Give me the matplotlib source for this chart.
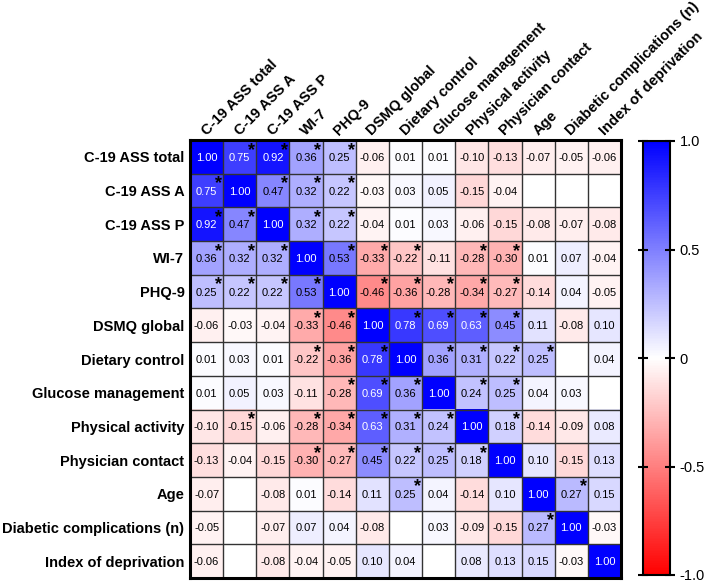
import numpy as np
import matplotlib
matplotlib.use('Agg')
import matplotlib.pyplot as plt
from matplotlib.colors import LinearSegmentedColormap

plt.rcParams['font.family'] = ['Liberation Sans', 'DejaVu Sans']

# Variable names
labels = ['C-19 ASS total', 'C-19 ASS A', 'C-19 ASS P', 'WI-7', 'PHQ-9',
          'DSMQ global', 'Dietary control', 'Glucose management',
          'Physical activity', 'Physician contact', 'Age',
          'Diabetic complications (n)', 'Index of deprivation']

nan = np.nan
# Correlation coefficients (blank cells = nan)
corr = [
    [1.00, 0.75, 0.92, 0.36, 0.25, -0.06, 0.01, 0.01, -0.10, -0.13, -0.07, -0.05, -0.06],
    [0.75, 1.00, 0.47, 0.32, 0.22, -0.03, 0.03, 0.05, -0.15, -0.04, nan, nan, nan],
    [0.92, 0.47, 1.00, 0.32, 0.22, -0.04, 0.01, 0.03, -0.06, -0.15, -0.08, -0.07, -0.08],
    [0.36, 0.32, 0.32, 1.00, 0.53, -0.33, -0.22, -0.11, -0.28, -0.30, 0.01, 0.07, -0.04],
    [0.25, 0.22, 0.22, 0.53, 1.00, -0.46, -0.36, -0.28, -0.34, -0.27, -0.14, 0.04, -0.05],
    [-0.06, -0.03, -0.04, -0.33, -0.46, 1.00, 0.78, 0.69, 0.63, 0.45, 0.11, -0.08, 0.10],
    [0.01, 0.03, 0.01, -0.22, -0.36, 0.78, 1.00, 0.36, 0.31, 0.22, 0.25, nan, 0.04],
    [0.01, 0.05, 0.03, -0.11, -0.28, 0.69, 0.36, 1.00, 0.24, 0.25, 0.04, 0.03, nan],
    [-0.10, -0.15, -0.06, -0.28, -0.34, 0.63, 0.31, 0.24, 1.00, 0.18, -0.14, -0.09, 0.08],
    [-0.13, -0.04, -0.15, -0.30, -0.27, 0.45, 0.22, 0.25, 0.18, 1.00, 0.10, -0.15, 0.13],
    [-0.07, nan, -0.08, 0.01, -0.14, 0.11, 0.25, 0.04, -0.14, 0.10, 1.00, 0.27, 0.15],
    [-0.05, nan, -0.07, 0.07, 0.04, -0.08, nan, 0.03, -0.09, -0.15, 0.27, 1.00, -0.03],
    [-0.06, nan, -0.08, -0.04, -0.05, 0.10, 0.04, nan, 0.08, 0.13, 0.15, -0.03, 1.00],
]

# Significance markers (1 = asterisk)
sig = [
    [0, 1, 1, 1, 1, 0, 0, 0, 0, 0, 0, 0, 0],
    [1, 0, 1, 1, 1, 0, 0, 0, 0, 0, 0, 0, 0],
    [1, 1, 0, 1, 1, 0, 0, 0, 0, 0, 0, 0, 0],
    [1, 1, 1, 0, 1, 1, 1, 0, 1, 1, 0, 0, 0],
    [1, 1, 1, 1, 0, 1, 1, 1, 1, 1, 0, 0, 0],
    [0, 0, 0, 1, 1, 0, 1, 1, 1, 1, 0, 0, 0],
    [0, 0, 0, 1, 1, 1, 0, 1, 1, 1, 1, 0, 0],
    [0, 0, 0, 0, 1, 1, 1, 0, 1, 1, 0, 0, 0],
    [0, 1, 0, 1, 1, 1, 1, 1, 0, 1, 0, 0, 0],
    [0, 0, 0, 1, 1, 1, 1, 1, 1, 0, 0, 0, 0],
    [0, 0, 0, 0, 0, 0, 1, 0, 0, 0, 0, 1, 0],
    [0, 0, 0, 0, 0, 0, 0, 0, 0, 0, 1, 0, 0],
    [0, 0, 0, 0, 0, 0, 0, 0, 0, 0, 0, 0, 0],
]

cbar_ticks = [1.0, 0.5, 0, -0.5, -1.0]
cbar_ticklabels = ['1.0', '0.5', '0', '-0.5', '-1.0']

data = np.ma.masked_invalid(np.array(corr, dtype=float))
n = len(labels)

cmap = LinearSegmentedColormap.from_list('rwb', ['#ff0000', '#ffffff', '#0000ff'])
cmap.set_bad('white')

fig = plt.figure(figsize=(7.09, 5.83), dpi=100)
ax = fig.add_axes([190 / 709, 1 - 578 / 583, 431 / 709, 438 / 583])
cax = fig.add_axes([643 / 709, 1 - 575 / 583, 27 / 709, 434 / 583])

im = ax.imshow(data, cmap=cmap, vmin=-1, vmax=1, aspect='auto')

# cell grid
ax.set_xticks(np.arange(-0.5, n, 1), minor=True)
ax.set_yticks(np.arange(-0.5, n, 1), minor=True)
ax.grid(which='minor', color='#333333', linewidth=1.0)
ax.tick_params(which='minor', length=0)
for s in ax.spines.values():
    s.set_linewidth(2.2)

ax.set_xticks(np.arange(n))
ax.set_yticks(np.arange(n))
ax.xaxis.tick_top()
ax.set_xticklabels(labels, rotation=45, ha='left', va='baseline',
                   rotation_mode='anchor', fontsize=10.5, fontweight='bold')
ax.set_yticklabels(labels, fontsize=10.5, fontweight='bold')
ax.tick_params(axis='y', which='major', length=0, pad=4)
ax.tick_params(axis='x', which='major', length=0, pad=3)

for i in range(n):
    for j in range(n):
        v = corr[i][j]
        if np.isnan(v):
            continue
        color = 'white' if abs(v) > 0.6 else 'black'
        ax.text(j, i + 0.03, f'{v:.2f}', ha='center', va='center',
                fontsize=8, color=color)
        if sig[i][j]:
            ax.text(j + 0.36, i - 0.2, '*', ha='center', va='center',
                    fontsize=13, fontweight='bold', color='black')

cb = fig.colorbar(im, cax=cax, ticks=cbar_ticks)
cb.set_ticklabels(cbar_ticklabels)
cb.outline.set_linewidth(1.5)
cax.tick_params(direction='inout', length=7, width=1.5, labelsize=10.5, left=True)

fig.savefig('out.png', dpi=100)
